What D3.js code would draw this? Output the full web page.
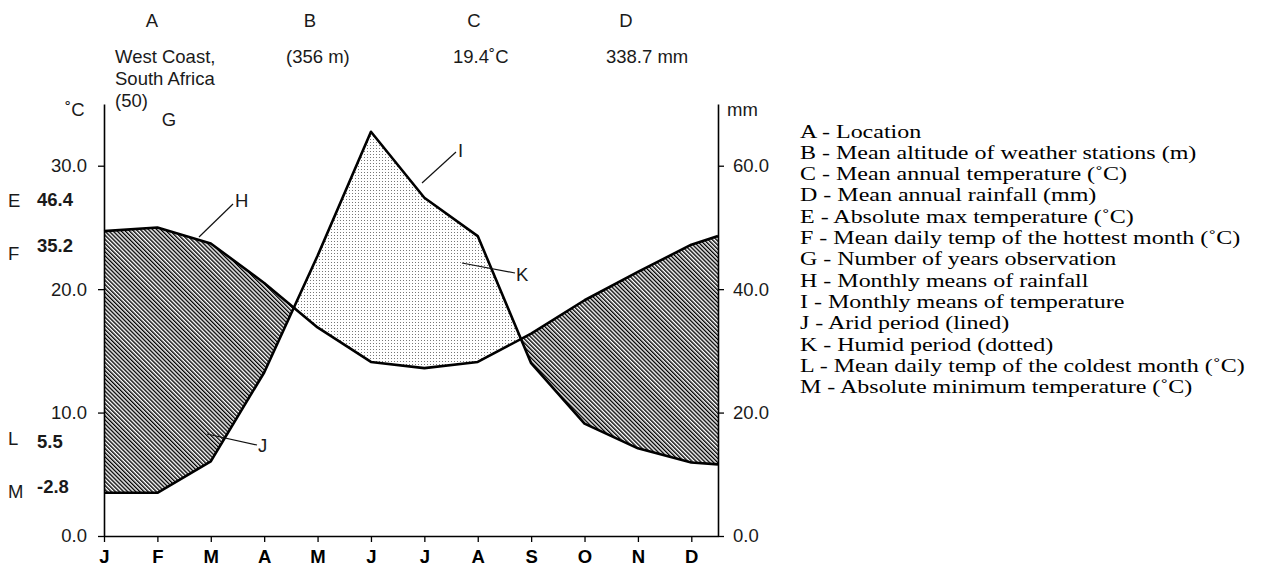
<!DOCTYPE html>
<html>
<head>
<meta charset="utf-8">
<script src="https://cdn.jsdelivr.net/npm/d3@7"></script>
<style>
    html, body { margin: 0; padding: 0; background: #ffffff; }
    svg { display: block; }
    .sans { font-family: "Liberation Sans", Arial, sans-serif; fill: #1a1a1a; }
    .serif { font-family: "Liberation Serif", "Times New Roman", serif; fill: #000; }
</style>
</head>
<body>
<div id="chart"></div>
<script>
// ── Data ───────────────────────────────────────────────────────────────────────

const months = ["J", "F", "M", "A", "M", "J", "J", "A", "S", "O", "N", "D"];
// monthly means, last value is where the curve meets the right edge (half month past D)
const temperature = [24.7, 25.0, 23.7, 20.5, 16.9, 14.1, 13.6, 14.1, 16.4, 19.1, 21.4, 23.6, 24.3]; // ˚C
const rainfall    = [7.0, 7.0, 12.1, 26.5, 45.4, 65.5, 54.8, 48.6, 28.0, 18.2, 14.2, 11.9, 11.6];  // mm
const tempTicks = [0, 10, 20, 30];
const rainTicks = [0, 20, 40, 60];

const headerKeys   = ["A", "B", "C", "D"];
const headerValues = [["West Coast,", "South Africa", "(50)"], ["(356 m)"], ["19.4˚C"], ["338.7 mm"]];
const sideKeys   = ["E", "F", "L", "M"];
const sideValues = ["46.4", "35.2", "5.5", "-2.8"];

const legendItems = [
    "A - Location",
    "B - Mean altitude of weather stations (m)",
    "C - Mean annual temperature (˚C)",
    "D - Mean annual rainfall (mm)",
    "E - Absolute max temperature (˚C)",
    "F - Mean daily temp of the hottest month (˚C)",
    "G - Number of years observation",
    "H - Monthly means of rainfall",
    "I - Monthly means of temperature",
    "J - Arid period (lined)",
    "K - Humid period (dotted)",
    "L - Mean daily temp of the coldest month (˚C)",
    "M - Absolute minimum temperature (˚C)"
];

// ── Layout ────────────────────────────────────────────────────────────────────

const W = 1262, H = 569;
const plot = { left: 104, right: 718, top: 104, bottom: 536 };
const FONT = "18.5px";

const svg = d3.select("#chart").append("svg")
    .attr("width", W)
    .attr("height", H);

const x = d3.scaleLinear().domain([0, 11.5]).range([plot.left, plot.right]);
const yT = d3.scaleLinear().domain([0, 35]).range([plot.bottom, plot.top]);
const yR = d3.scaleLinear().domain([0, 70]).range([plot.bottom, plot.top]);

const pts = temperature.map((t, i) => ({ x: i < months.length ? i : 11.5, t: t, r: rainfall[i] }));

// ── Fill patterns ─────────────────────────────────────────────────────────────

const defs = svg.append("defs");

const hatch = defs.append("pattern")
    .attr("id", "hatch")
    .attr("patternUnits", "userSpaceOnUse")
    .attr("width", 2.9).attr("height", 2.9)
    .attr("patternTransform", "rotate(-45)");
hatch.append("line")
    .attr("x1", 0.7).attr("y1", 0).attr("x2", 0.7).attr("y2", 2.9)
    .attr("stroke", "#000").attr("stroke-width", 1.4);

const dots = defs.append("pattern")
    .attr("id", "dots")
    .attr("patternUnits", "userSpaceOnUse")
    .attr("width", 3).attr("height", 3);
dots.append("rect")
    .attr("x", 1).attr("y", 1).attr("width", 1).attr("height", 1)
    .attr("fill", "#777");

// region below the temperature curve / below the rainfall curve
defs.append("clipPath").attr("id", "belowTemp").append("path")
    .attr("d", d3.area().x(d => x(d.x)).y0(plot.bottom).y1(d => yT(d.t))(pts));
defs.append("clipPath").attr("id", "belowRain").append("path")
    .attr("d", d3.area().x(d => x(d.x)).y0(plot.bottom).y1(d => yR(d.r))(pts));

// lined: temperature curve above rainfall curve
svg.append("path")
    .attr("d", d3.area().x(d => x(d.x)).y0(d => yR(d.r)).y1(plot.top)(pts))
    .attr("fill", "url(#hatch)")
    .attr("clip-path", "url(#belowTemp)");

// dotted: rainfall curve above temperature curve
svg.append("path")
    .attr("d", d3.area().x(d => x(d.x)).y0(d => yT(d.t)).y1(plot.top)(pts))
    .attr("fill", "url(#dots)")
    .attr("clip-path", "url(#belowRain)");

// ── Curves ────────────────────────────────────────────────────────────────────

svg.append("path")
    .attr("d", d3.line().x(d => x(d.x)).y(d => yT(d.t))(pts))
    .attr("fill", "none").attr("stroke", "#000").attr("stroke-width", 2.6)
    .attr("stroke-linejoin", "round");

svg.append("path")
    .attr("d", d3.line().x(d => x(d.x)).y(d => yR(d.r))(pts))
    .attr("fill", "none").attr("stroke", "#000").attr("stroke-width", 2.6)
    .attr("stroke-linejoin", "round");

// ── Axes ──────────────────────────────────────────────────────────────────────

function styleAxis(g) {
    g.select(".domain").attr("stroke", "#000").attr("stroke-width", 1.6);
    g.selectAll(".tick line").attr("stroke", "#000").attr("stroke-width", 1.3);
    g.selectAll(".tick text").attr("fill", "#1a1a1a")
        .style("font-family", '"Liberation Sans", Arial, sans-serif');
}

svg.append("g")
    .attr("transform", `translate(${plot.left},0)`)
    .call(d3.axisLeft(yT).tickValues(tempTicks).tickFormat(d3.format(".1f")).tickSize(6).tickSizeOuter(0).tickPadding(11))
    .call(styleAxis)
    .selectAll(".tick text").style("font-size", FONT);

svg.append("g")
    .attr("transform", `translate(${plot.right},0)`)
    .call(d3.axisRight(yR).tickValues(rainTicks).tickFormat(d3.format(".1f")).tickSize(6).tickSizeOuter(0).tickPadding(9))
    .call(styleAxis)
    .selectAll(".tick text").style("font-size", FONT);

const xAxis = svg.append("g")
    .attr("transform", `translate(0,${plot.bottom})`)
    .call(d3.axisBottom(x).tickValues(d3.range(months.length)).tickFormat(i => months[i]).tickSize(6).tickSizeOuter(0).tickPadding(8))
    .call(styleAxis);
xAxis.selectAll(".tick text")
    .style("font-size", "18.5px").style("font-weight", "bold").attr("fill", "#000");

// ── Header and side labels ────────────────────────────────────────────────────

const headerX = [152, 310, 474, 626];
const headerLeft = [115, 286, 453, 606];

svg.selectAll(".hkey").data(headerKeys).enter().append("text")
    .attr("class", "sans")
    .attr("x", (d, i) => headerX[i]).attr("y", 27)
    .attr("text-anchor", "middle")
    .style("font-size", FONT)
    .text(d => d);

headerValues.forEach((lines, i) => {
    svg.append("text")
        .attr("class", "sans")
        .attr("x", headerLeft[i]).attr("y", 63)
        .style("font-size", FONT)
        .selectAll("tspan").data(lines).enter().append("tspan")
        .attr("x", headerLeft[i])
        .attr("dy", (d, j) => j === 0 ? 0 : 22)
        .text(d => d);
});

svg.append("text").attr("class", "sans").attr("x", 65).attr("y", 116)
    .style("font-size", FONT).text("˚C");
svg.append("text").attr("class", "sans").attr("x", 169).attr("y", 126)
    .attr("text-anchor", "middle").style("font-size", FONT).text("G");
svg.append("text").attr("class", "sans").attr("x", 727).attr("y", 116)
    .style("font-size", FONT).text("mm");

const sideY = [207, 260, 445, 498];
const sideValY = [206, 252, 448, 493];
svg.selectAll(".skey").data(sideKeys).enter().append("text")
    .attr("class", "sans")
    .attr("x", 8).attr("y", (d, i) => sideY[i])
    .style("font-size", FONT)
    .text(d => d);
svg.selectAll(".sval").data(sideValues).enter().append("text")
    .attr("class", "sans")
    .attr("x", 37).attr("y", (d, i) => sideValY[i])
    .style("font-size", FONT).style("font-weight", "bold").attr("fill", "#000")
    .text(d => d);

// ── Callouts ──────────────────────────────────────────────────────────────────

const callouts = [
    { key: "H", x1: 199, y1: 237, x2: 233, y2: 204, tx: 235, ty: 207 },
    { key: "I", x1: 422, y1: 183, x2: 456, y2: 152, tx: 458, ty: 157 },
    { key: "K", x1: 462, y1: 263, x2: 515, y2: 273, tx: 516, ty: 281 },
    { key: "J", x1: 207, y1: 434, x2: 257, y2: 445, tx: 258, ty: 452 }
];
callouts.forEach(c => {
    svg.append("line")
        .attr("x1", c.x1).attr("y1", c.y1).attr("x2", c.x2).attr("y2", c.y2)
        .attr("stroke", "#111").attr("stroke-width", 1.2);
    svg.append("text").attr("class", "sans")
        .attr("x", c.tx).attr("y", c.ty)
        .style("font-size", FONT)
        .text(c.key);
});

// ── Legend ────────────────────────────────────────────────────────────────────

// the source legend is set in a wide serif, so stretch it horizontally
svg.append("g").selectAll("text").data(legendItems).enter().append("text")
    .attr("class", "serif")
    .attr("transform", (d, i) => `translate(800,${137.5 + i * 21.3}) scale(1.25,1)`)
    .style("font-size", "19.2px")
    .text(d => d);
</script>
</body>
</html>
